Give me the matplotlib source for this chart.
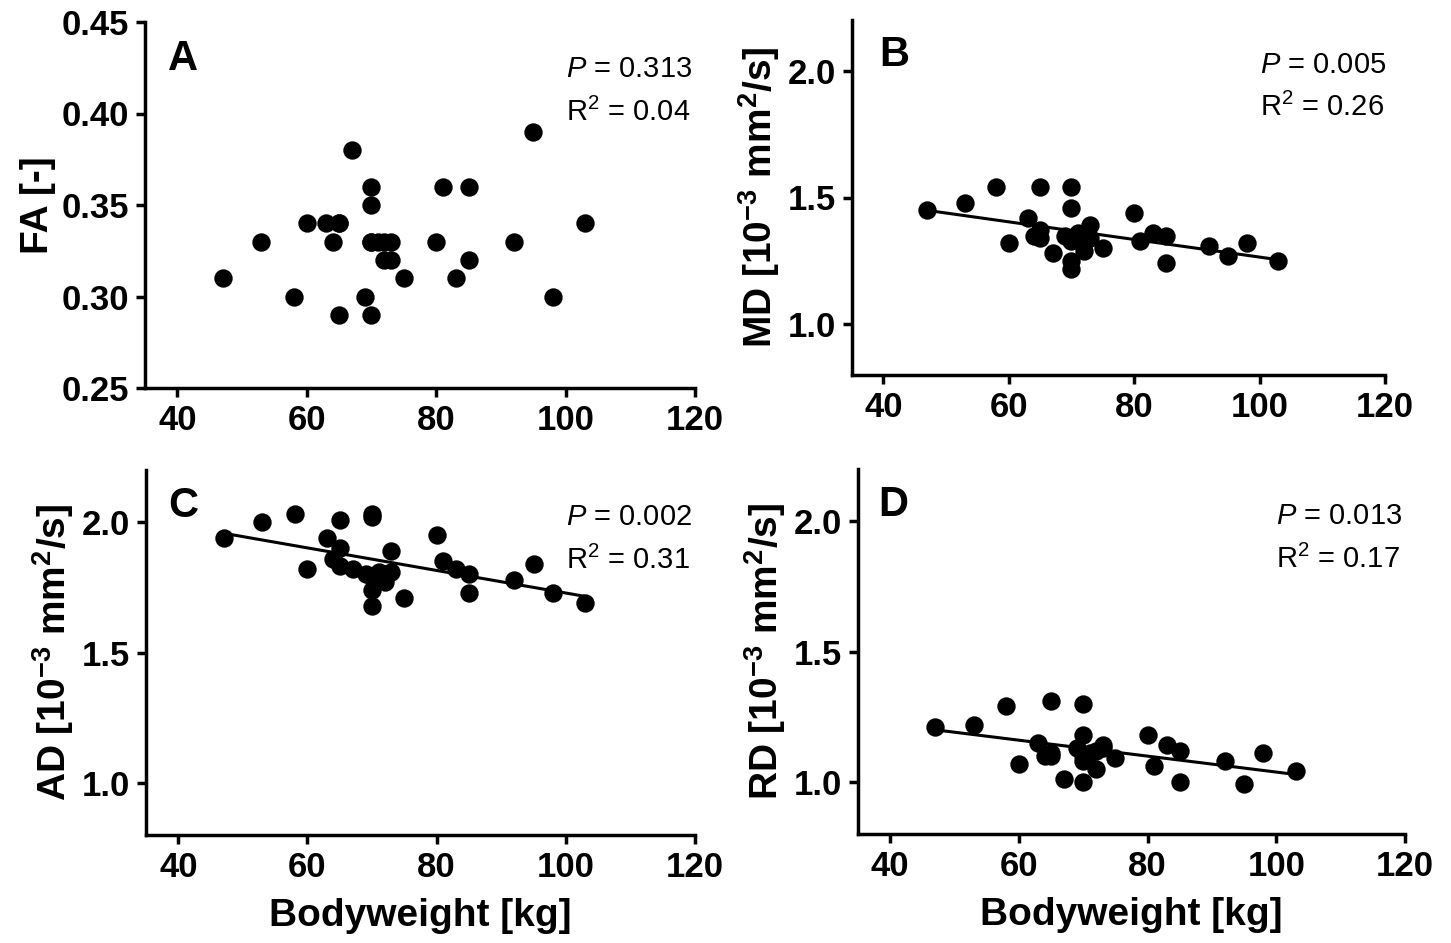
import numpy as np
import matplotlib
matplotlib.use("Agg")
import matplotlib.pyplot as plt

plt.rcParams['font.family'] = ['Liberation Sans', 'DejaVu Sans']
plt.rcParams['mathtext.fontset'] = 'custom'
plt.rcParams['mathtext.rm'] = 'Liberation Sans'
plt.rcParams['mathtext.it'] = 'Liberation Sans:italic'
plt.rcParams['mathtext.bf'] = 'Liberation Sans:bold'

bodyweight = [47, 53, 58, 60, 63, 64, 65, 65, 65, 67, 69, 70, 70, 70, 70, 70, 71,
              72, 72, 73, 73, 75, 80, 81, 83, 85, 85, 92, 95, 98, 103]
fa = [0.31, 0.33, 0.30, 0.34, 0.34, 0.33, 0.34, 0.29, 0.34, 0.38, 0.30, 0.36, 0.35,
      0.33, 0.29, 0.33, 0.33, 0.33, 0.32, 0.33, 0.32, 0.31, 0.33, 0.36, 0.31, 0.36,
      0.32, 0.33, 0.39, 0.30, 0.34]
md = [1.45, 1.48, 1.54, 1.32, 1.42, 1.35, 1.37, 1.34, 1.54, 1.28, 1.35, 1.54, 1.46,
      1.33, 1.25, 1.22, 1.36, 1.29, 1.33, 1.39, 1.34, 1.30, 1.44, 1.33, 1.36, 1.35,
      1.24, 1.31, 1.27, 1.32, 1.25]
ad = [1.94, 2.00, 2.03, 1.82, 1.94, 1.86, 1.90, 1.83, 2.01, 1.82, 1.80, 2.02, 2.03,
      1.79, 1.74, 1.68, 1.81, 1.77, 1.80, 1.89, 1.81, 1.71, 1.95, 1.85, 1.82, 1.80,
      1.73, 1.78, 1.84, 1.73, 1.69]
rd = [1.21, 1.22, 1.29, 1.07, 1.15, 1.10, 1.10, 1.31, 1.11, 1.01, 1.13, 1.30, 1.18,
      1.08, 1.00, 1.10, 1.11, 1.05, 1.12, 1.14, 1.13, 1.09, 1.18, 1.06, 1.14, 1.12,
      1.00, 1.08, 0.99, 1.11, 1.04]

panel_letters = ['A', 'B', 'C', 'D']
p_values = ['0.313', '0.005', '0.002', '0.013']
r2_values = ['0.04', '0.26', '0.31', '0.17']
show_fit = [False, True, True, True]
unit = r' [10$^{\mathbf{-3}}$ mm$^{\mathbf{2}}$/s]'
ylabels = ['FA [-]', 'MD' + unit, 'AD' + unit, 'RD' + unit]
ylims = [(0.25, 0.45), (0.8, 2.2), (0.8, 2.2), (0.8, 2.2)]
yticks = [[0.25, 0.30, 0.35, 0.40, 0.45], [1.0, 1.5, 2.0], [1.0, 1.5, 2.0], [1.0, 1.5, 2.0]]
yfmt = ['{:.2f}', '{:.1f}', '{:.1f}', '{:.1f}']
xticks = [40, 60, 80, 100, 120]
series = [fa, md, ad, rd]

W, H = 1451, 943
fig = plt.figure(figsize=(W / 100, H / 100), dpi=100)
# pixel boxes: left, top, right, bottom
boxes = [(145, 22, 695, 388), (852, 20, 1385, 375), (146, 470, 695, 835), (858, 469, 1405, 834)]
letter_x = [0.042, 0.052, 0.040, 0.037]

x = np.array(bodyweight, dtype=float)
for i in range(4):
    l, t, r, b = boxes[i]
    ax = fig.add_axes([l / W, 1 - b / H, (r - l) / W, (b - t) / H])
    y = np.array(series[i], dtype=float)
    ax.scatter(x, y, s=175, color='black', zorder=3, linewidths=0)
    if show_fit[i]:
        k, c = np.polyfit(x, y, 1)
        xx = np.array([x.min(), x.max()])
        ax.plot(xx, k * xx + c, color='black', lw=2.2, zorder=2)
    ax.set_xlim(35, 120)
    ax.set_ylim(*ylims[i])
    ax.set_xticks(xticks)
    ax.set_xticklabels([str(v) for v in xticks])
    ax.set_yticks(yticks[i])
    ax.set_yticklabels([yfmt[i].format(v) for v in yticks[i]])
    for s in ['top', 'right']:
        ax.spines[s].set_visible(False)
    for s in ['left', 'bottom']:
        ax.spines[s].set_linewidth(2.5)
    ax.tick_params(direction='out', length=6.5, width=2.5, pad=5)
    for lab in ax.get_xticklabels() + ax.get_yticklabels():
        lab.set_fontsize(25)
        lab.set_fontweight('bold')
    ax.set_ylabel(ylabels[i], fontsize=28, fontweight='bold', labelpad=4)
    if i >= 2:
        ax.set_xlabel('Bodyweight [kg]', fontsize=28, fontweight='bold', labelpad=10)
    ax.text(letter_x[i], 0.87, panel_letters[i], transform=ax.transAxes,
            fontsize=30, fontweight='bold', va='baseline', ha='left')
    ax.text(100, 0.85, r'$\mathit{P}$ = ' + p_values[i],
            transform=ax.get_xaxis_transform(), fontsize=21, va='baseline', ha='left')
    ax.text(100, 0.73, r'R$^2$ = ' + r2_values[i],
            transform=ax.get_xaxis_transform(), fontsize=21, va='baseline', ha='left')

fig.savefig('out.png', dpi=100)
